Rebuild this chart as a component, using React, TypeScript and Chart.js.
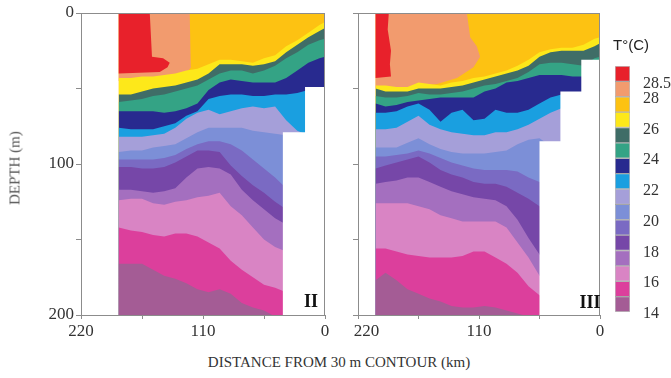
import React, { useEffect, useRef } from 'react';
import { Chart, registerables } from 'chart.js';

Chart.register(...registerables);

const SERIF = '"Liberation Serif", "DejaVu Serif", serif';
const SANS = '"Liberation Sans", Arial, sans-serif';

// Temperature classes, warmest first (°C)
const classLabels = ['> 28.5', '28–28.5', '27–28', '26–27', '25–26', '24–25', '23–24', '22–23', '21–22', '20–21', '19–20', '18–19', '17–18', '16–17', '15–16', '14–15'];
const classColors = ['#e8212b', '#f29b6e', '#fdc212', '#fde81a', '#3f6d67', '#34a385', '#282a8f', '#1a9fe0', '#a59fd9', '#7c8fd7', '#7a6ac3', '#7647a8', '#a46fbf', '#d984c4', '#dc3f9c', '#a45c95'];

// Colour-bar labels sit on class boundaries (boundary index counted from the coldest class)
const scaleTickPositions = [0, 2, 4, 6, 8, 10, 12, 14, 15];
const scaleTickLabels = ['14', '16', '18', '20', '22', '24', '26', '28', '28.5'];

// ---------- Section II ----------
// distance from the 30 m contour (km)
const II_dist = [186, 175, 165, 155, 145, 135, 125, 115, 105, 95, 85, 75, 65, 55, 45, 35, 25, 15, 5, 0];
// isotherm depths (m)
const II_t27 = [43, 43, 42, 42, 41, 40, 38, 37, 34, 31, 31, 32, 33, 30, 28, 22, 18, 13, 8, 6];
const II_t26 = [54, 54, 52, 50, 49, 48, 46, 44, 40, 34, 34, 34, 35, 34, 32, 26, 21, 16, 12, 10];
const II_t25 = [59, 58, 57, 55, 54, 52, 50, 48, 44, 40, 38, 38, 40, 38, 35, 30, 26, 21, 18, 17];
const II_t24 = [65, 65, 65, 65, 66, 65, 63, 60, 51, 46, 44, 45, 46, 46, 46, 43, 38, 33, 30, 29];
const II_t23 = [76, 77, 77, 77, 75, 73, 68, 65, 57, 55, 54, 54, 55, 55, 54, 54, 53, 51, 51, 51];
const II_t22 = [82, 82, 82, 81, 80, 76, 70, 66, 64, 67, 65, 63, 62, 63, 62, 71, 78, 81, 81, 81];
const II_t21 = [92, 91, 91, 89, 88, 87, 83, 79, 76, 76, 76, 76, 78, 79, 80, 81, 82, 82, 82, 82];
const II_t20 = [97, 97, 97, 97, 96, 94, 90, 87, 85, 85, 87, 91, 97, 103, 109, 116, 120, 120, 120, 120];
const II_t19 = [102, 102, 103, 103, 102, 99, 95, 91, 91, 92, 101, 108, 114, 119, 125, 130, 134, 134, 134, 134];
const II_t18 = [117, 117, 118, 119, 118, 116, 109, 103, 102, 103, 107, 117, 124, 130, 136, 140, 144, 144, 144, 144];
const II_t17 = [124, 123, 123, 126, 127, 125, 124, 122, 121, 119, 128, 134, 142, 150, 155, 158, 160, 160, 160, 160];
const II_t16 = [142, 144, 145, 147, 148, 146, 146, 148, 152, 156, 164, 170, 175, 180, 182, 185, 187, 187, 187, 187];
const II_t15 = [166, 166, 166, 170, 174, 176, 179, 183, 185, 183, 186, 192, 195, 197, 201, 205, 205, 205, 205, 205];
// outline of the sampled section (27–28 °C water fills it first)
const II_frameD = [186, 0, 0, 186];
const II_frameZ = [0, 0, 200, 200];
// 28–28.5 °C and > 28.5 °C surface pools
const II_warmD = [186, 122, 121, 125, 149, 186];
const II_warmZ = [0, 0, 36, 40, 43, 45];
const II_hotD = [186, 158, 156, 146, 140, 142, 149, 186];
const II_hotZ = [0, 0, 29, 30, 33, 36, 39, 40];
// no data below the shelf steps
const II_shelfD = [-2, 18, 18, 38, 38, -2];
const II_shelfZ = [49, 49, 79, 79, 202, 202];

// ---------- Section III ----------
const III_dist = [204, 195, 185, 175, 165, 155, 145, 135, 125, 115, 105, 95, 85, 75, 65, 55, 45, 35, 25, 15, 5, 0];
const III_t27 = [48, 48, 49, 49, 46, 47, 48, 46, 45, 43, 42, 40, 38, 35, 31, 26, 24, 23, 23, 21, 17, 16];
const III_t26 = [50, 52, 52, 52, 50, 50, 50, 49, 48, 46, 44, 42, 40, 38, 35, 29, 26, 25, 25, 25, 22, 20];
const III_t25 = [55, 56, 56, 55, 53, 54, 54, 53, 52, 50, 48, 47, 45, 43, 39, 34, 33, 33, 34, 35, 30, 29];
const III_t24 = [60, 62, 61, 59, 58, 57, 56, 56, 56, 56, 52, 50, 46, 45, 43, 41, 41, 41, 42, 42, 39, 38];
const III_t23 = [66, 66, 65, 62, 60, 64, 72, 66, 64, 71, 70, 64, 66, 66, 64, 60, 56, 54, 54, 54, 54, 54];
const III_t22 = [77, 77, 76, 72, 68, 74, 77, 79, 80, 81, 81, 79, 79, 77, 74, 70, 66, 63, 63, 63, 63, 63];
const III_t21 = [89, 89, 89, 86, 83, 87, 90, 92, 93, 93, 93, 92, 91, 87, 84, 83, 88, 88, 88, 88, 88, 88];
const III_t20 = [95, 95, 94, 93, 91, 93, 96, 99, 101, 103, 104, 104, 104, 105, 109, 112, 114, 114, 114, 114, 114, 114];
const III_t19 = [103, 101, 99, 97, 95, 99, 104, 107, 109, 112, 113, 113, 115, 119, 123, 128, 131, 131, 131, 131, 131, 131];
const III_t18 = [113, 112, 111, 109, 109, 112, 115, 118, 120, 122, 123, 124, 128, 137, 149, 160, 167, 167, 167, 167, 167, 167];
const III_t17 = [126, 126, 126, 126, 128, 130, 134, 136, 138, 138, 138, 138, 142, 152, 162, 174, 180, 180, 180, 180, 180, 180];
const III_t16 = [156, 156, 158, 160, 161, 162, 162, 162, 161, 158, 158, 162, 166, 172, 181, 187, 190, 190, 190, 190, 190, 190];
const III_t15 = [177, 172, 177, 183, 186, 189, 191, 194, 195, 195, 194, 195, 197, 199, 201, 202, 202, 202, 202, 202, 202, 202];
const III_frameD = [204, 0, 0, 204];
const III_frameZ = [0, 0, 200, 200];
const III_warmD = [204, 121, 118, 112, 109, 115, 130, 148, 173, 204];
const III_warmZ = [0, 0, 16, 22, 29, 36, 43, 47, 49, 50];
const III_hotD = [204, 192, 193, 190, 191, 190, 204];
const III_hotZ = [0, 0, 11, 25, 34, 42, 43];
const III_shelfD = [-2, 17, 17, 36, 36, 55, 55, -2];
const III_shelfZ = [31, 31, 52, 52, 85, 85, 202, 202];

type Section = {
  dist: number[];
  isotherms: number[][]; // 27 °C down to 15 °C
  frameD: number[]; frameZ: number[];
  warmD: number[]; warmZ: number[];
  hotD: number[]; hotZ: number[];
  shelfD: number[]; shelfZ: number[];
};

const sectionII: Section = {
  dist: II_dist,
  isotherms: [II_t27, II_t26, II_t25, II_t24, II_t23, II_t22, II_t21, II_t20, II_t19, II_t18, II_t17, II_t16, II_t15],
  frameD: II_frameD, frameZ: II_frameZ, warmD: II_warmD, warmZ: II_warmZ,
  hotD: II_hotD, hotZ: II_hotZ, shelfD: II_shelfD, shelfZ: II_shelfZ,
};

const sectionIII: Section = {
  dist: III_dist,
  isotherms: [III_t27, III_t26, III_t25, III_t24, III_t23, III_t22, III_t21, III_t20, III_t19, III_t18, III_t17, III_t16, III_t15],
  frameD: III_frameD, frameZ: III_frameZ, warmD: III_warmD, warmZ: III_warmZ,
  hotD: III_hotD, hotZ: III_hotZ, shelfD: III_shelfD, shelfZ: III_shelfZ,
};

const pts = (xs: number[], ys: number[]) => xs.map((x, i) => ({ x, y: ys[i] }));

// Painter's layering: each isotherm fills down to 200 m with the colour of the class below it
function buildLayers(sec: Section) {
  const layers: any[] = [];
  const add = (xs: number[], ys: number[], color: string, fill: any, label: string) =>
    layers.push({ label, data: pts(xs, ys), backgroundColor: color, fill });
  add(sec.frameD, sec.frameZ, classColors[2], 'shape', classLabels[2]);
  add(sec.warmD, sec.warmZ, classColors[1], 'shape', classLabels[1]);
  add(sec.hotD, sec.hotZ, classColors[0], 'shape', classLabels[0]);
  sec.isotherms.forEach((z, k) => add(sec.dist, z, classColors[3 + k], { value: 200 }, classLabels[3 + k]));
  add(sec.shelfD, sec.shelfZ, '#ffffff', 'shape', 'shelf');
  const n = layers.length;
  return layers.map((l, i) => ({
    ...l,
    borderColor: 'rgba(0,0,0,0)',
    borderWidth: 0,
    pointRadius: 0,
    pointHoverRadius: 0,
    tension: 0,
    order: n - i,
  }));
}

const framePlugin = {
  id: 'sectionFrame',
  afterDatasetsDraw(chart: any) {
    const { ctx, chartArea: a } = chart;
    ctx.save();
    ctx.strokeStyle = '#8c8c8c';
    ctx.lineWidth = 1;
    ctx.strokeRect(Math.round(a.left) + 0.5, Math.round(a.top) + 0.5, Math.round(a.right - a.left) - 1, Math.round(a.bottom - a.top));
    ctx.restore();
  },
};

const tickFont = { family: SERIF, size: 17 };
const tickColor = '#333333';
const axisGray = '#8c8c8c';

function SectionChart(props: { sec: Section; left: number; width: number; yWidth: number; depthLabels: boolean; farLabel: string }) {
  const { sec, left, width, yWidth, depthLabels, farLabel } = props;
  const ref = useRef<HTMLCanvasElement>(null);
  useEffect(() => {
    const chart = new Chart(ref.current as HTMLCanvasElement, {
      type: 'line',
      data: { datasets: buildLayers(sec) as any },
      options: {
        responsive: false,
        animation: false,
        events: [],
        layout: { padding: { top: 13, right: 10, left: 0, bottom: 0 } },
        plugins: { legend: { display: false }, tooltip: { enabled: false } },
        scales: {
          x: {
            type: 'linear', min: 0, max: 220, reverse: true,
            grid: { drawOnChartArea: false, drawTicks: true, tickLength: 4, color: axisGray },
            border: { display: false },
            ticks: {
              stepSize: 55, autoSkip: false, maxRotation: 0, padding: 2, font: tickFont, color: tickColor,
              callback: (v: any) => {
                const n = Number(v);
                if (n === 220) return farLabel;
                return n % 110 === 0 ? String(n) : '';
              },
            },
            afterFit: (s: any) => { s.height = 30; s.paddingLeft = 0; s.paddingRight = 0; },
          },
          y: {
            type: 'linear', min: 0, max: 200, reverse: true,
            grid: { drawOnChartArea: false, drawTicks: true, tickLength: 5, color: axisGray },
            border: { display: false },
            ticks: {
              stepSize: 50, autoSkip: false, padding: 2, font: tickFont, color: tickColor,
              callback: (v: any) => (depthLabels && Number(v) % 100 === 0 ? String(v) : ''),
            },
            afterFit: (s: any) => { s.width = yWidth; s.paddingTop = 0; s.paddingBottom = 0; },
          },
        },
      } as any,
      plugins: [framePlugin],
    });
    return () => chart.destroy();
  }, []);
  return (
    <canvas ref={ref} width={width} height={345}
      style={{ position: 'absolute', left, top: 0, width, height: 345 }} />
  );
}

function ColorScale() {
  const ref = useRef<HTMLCanvasElement>(null);
  useEffect(() => {
    const order = classColors.map((_, i) => classColors.length - 1 - i); // coldest first
    const chart = new Chart(ref.current as HTMLCanvasElement, {
      type: 'bar',
      data: {
        labels: ['T'],
        datasets: order.map((k) => ({
          label: classLabels[k],
          data: [1],
          backgroundColor: classColors[k],
          borderColor: 'rgba(70,70,70,0.35)',
          borderWidth: 1,
          borderSkipped: false,
          barPercentage: 1,
          categoryPercentage: 1,
        })),
      },
      options: {
        responsive: false,
        animation: false,
        events: [],
        layout: { padding: { top: 16, right: 0, left: 5, bottom: 18 } },
        plugins: { legend: { display: false }, tooltip: { enabled: false } },
        scales: {
          x: { stacked: true, display: false },
          y: {
            stacked: true, position: 'right', min: 0, max: 16,
            grid: { display: false, drawTicks: false },
            border: { display: false },
            ticks: {
              autoSkip: false, padding: 13, labelOffset: 2, font: { family: SERIF, size: 16 }, color: tickColor,
              callback: (v: any) => {
                const i = scaleTickPositions.indexOf(Number(v));
                return i >= 0 ? scaleTickLabels[i] : '';
              },
            },
            afterBuildTicks: (s: any) => { s.ticks = scaleTickPositions.map((v) => ({ value: v })); },
            afterFit: (s: any) => { s.width = 41; s.paddingTop = 0; s.paddingBottom = 0; },
          },
        },
      } as any,
    });
    return () => chart.destroy();
  }, []);
  return (
    <canvas ref={ref} width={61} height={280}
      style={{ position: 'absolute', left: 610, top: 50, width: 61, height: 280 }} />
  );
}

const textBase: React.CSSProperties = {
  position: 'absolute',
  transform: 'translate(-50%, -50%)',
  whiteSpace: 'nowrap',
  lineHeight: 1,
};

export default function App() {
  return (
    <div style={{ position: 'fixed', left: 0, top: 0, width: 671, height: 378, background: '#fff', overflow: 'hidden', fontFamily: SERIF }}>
      <SectionChart sec={sectionII} left={0} width={335} yWidth={81} depthLabels={true} farLabel="220" />
      <SectionChart sec={sectionIII} left={340} width={270} yWidth={18} depthLabels={false} farLabel={'\u2007\u2007220'} />
      <ColorScale />
      <div style={{ ...textBase, left: 15, top: 168, transform: 'translate(-50%, -50%) rotate(-90deg)', fontSize: 15, color: '#555' }}>DEPTH (m)</div>
      <div style={{ ...textBase, left: 339, top: 362, fontSize: 15, color: '#333' }}>DISTANCE FROM 30 m CONTOUR (km)</div>
      <div style={{ ...textBase, left: 311, top: 301, fontSize: 18, fontWeight: 'bold', color: '#111' }}>II</div>
      <div style={{ ...textBase, left: 590, top: 302, fontSize: 18, fontWeight: 'bold', color: '#111' }}>III</div>
      <div style={{ ...textBase, left: 631, top: 44, fontSize: 15, fontFamily: SANS, color: '#222' }}>T°(C)</div>
    </div>
  );
}
